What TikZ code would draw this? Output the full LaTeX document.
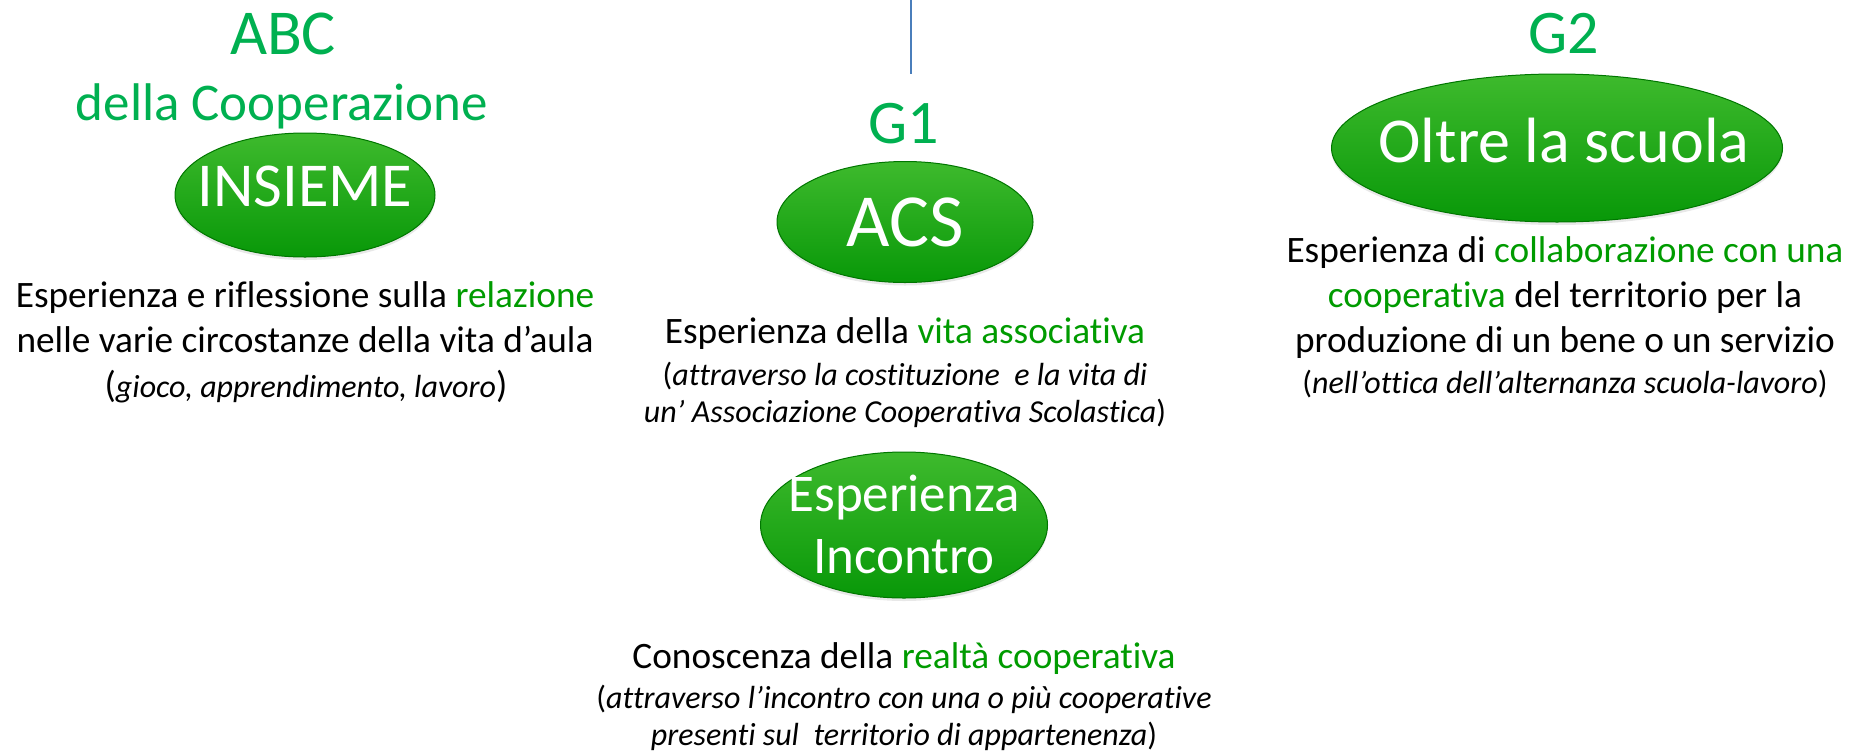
\documentclass[tikz,border=0pt]{standalone}
\usepackage{fontspec}
\setmainfont{Carlito}[Ligatures=NoCommon]
\usepackage{xcolor}
\usetikzlibrary{shapes.geometric}
\usetikzlibrary{shadows}
\definecolor{titlegreen}{RGB}{0,176,80}
\definecolor{keygreen}{RGB}{0,155,0}
\definecolor{ovaltop}{RGB}{62,186,45}
\definecolor{ovalbottom}{RGB}{8,152,8}
\definecolor{ovalrim}{RGB}{0,118,0}
\definecolor{lineblue}{RGB}{74,126,187}
\newcommand{\key}[1]{\textcolor{keygreen}{#1}}
\newcommand{\fs}[2]{\fontsize{#1}{#2}\selectfont}

\begin{document}
\begin{tikzpicture}[x=1pt,y=-1pt]
\tikzstyle{oval} = [ellipse, draw=ovalrim, line width=1pt, top color=ovaltop, bottom color=ovalbottom, inner sep=0pt, drop shadow={opacity=0.18, shadow xshift=0pt, shadow yshift=-3pt}]
\tikzstyle{ovaltext} = [text=white, anchor=base, inner sep=0pt, align=center]
\tikzstyle{heading} = [text=titlegreen, anchor=base, inner sep=0pt]
\tikzstyle{caption} = [anchor=base, inner sep=0pt, align=center, font=\fs{37.3}{44.8}]
\tikzstyle{note} = [anchor=base, inner sep=0pt, align=center, font=\fs{32}{37}\itshape]

\useasboundingbox (0,0) rectangle (1863,753);

% divider at the top
\coordinate (LINEtop) at (911,0);
\coordinate (LINEend) at (911,74);
\draw[lineblue, line width=2.5pt] (LINEtop) -- (LINEend);

% ABC della Cooperazione
\node[heading, font=\fs{64}{64}] (ABC) at (283,54) {ABC};
\node[heading, font=\fs{53}{53}] (ABCsub) at (282,120) {della Cooperazione};
\node[oval, minimum width=260pt, minimum height=124pt] (INSIEME) at (305,195) {};
\node[ovaltext, font=\fs{62.5}{62.5}] (INSIEMEtext) at (305,206) {INSIEME};
% multi-line nodes sit on the baseline of their last line
\node[caption] (INSIEMEdesc) at (305,352)
   {Esperienza e riflessione sulla \key{relazione}\\nelle varie circostanze della vita d’aula};
\node[caption] (INSIEMEnote) at (306,397)
   {(\textit{\fs{32}{37}gioco, apprendimento, lavoro})};

% G1
\node[heading, font=\fs{62}{62}] (G1) at (904,143) {G1};
\node[oval, minimum width=256pt, minimum height=121pt] (ACS) at (905,222) {};
\node[ovaltext, font=\fs{75}{75}] (ACStext) at (905,246) {ACS};
\node[caption] (ACSdesc) at (905,343) {Esperienza della \key{vita associativa}};
\node[note] (ACSnote) at (905,422)
   {\upshape(\itshape attraverso la costituzione~ e la vita di\\un’ Associazione Cooperativa Scolastica\upshape)};

\node[oval, minimum width=287pt, minimum height=146pt] (INCONTRO) at (904,525) {};
\node[ovaltext, font=\fs{53}{62}] (INCONTROtext) at (904,573) {Esperienza\\Incontro};
\node[caption] (INCONTROdesc) at (904,668) {Conoscenza della \key{realtà cooperativa}};
\node[note] (INCONTROnote) at (904,745)
   {\upshape(\itshape attraverso l’incontro con una o più cooperative\\presenti sul~ territorio di appartenenza\upshape)};

% G2
\node[heading, font=\fs{62}{62}] (G2) at (1564,53) {G2};
\node[oval, minimum width=451pt, minimum height=148pt] (OLTRE) at (1557,148) {};
\node[ovaltext, font=\fs{64}{64}] (OLTREtext) at (1564,162) {Oltre la scuola};
\node[caption] (OLTREdesc) at (1565,352)
   {Esperienza di \key{collaborazione con una}\\\key{cooperativa} del territorio per la\\produzione di un bene o un servizio};
\node[note] (OLTREnote) at (1565,393)
   {\upshape(\itshape nell’ottica dell’alternanza scuola-lavoro\upshape)};

\end{tikzpicture}
\end{document}
